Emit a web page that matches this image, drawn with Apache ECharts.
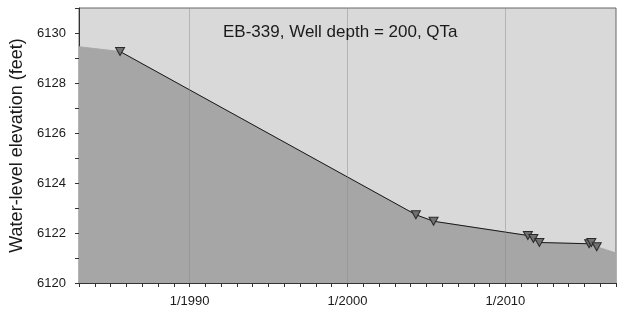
<!DOCTYPE html>
<html>
<head>
<meta charset="utf-8">
<script src="https://cdn.jsdelivr.net/npm/echarts@6/dist/echarts.min.js"></script>
<style>
  html, body { margin: 0; padding: 0; background: #fff; }
  #well_chart { width: 621px; height: 311px; }
</style>
</head>
<body>
<div id="well_chart"></div>
<script>
// measurement dates (decimal years) and water levels (feet)
var obs_dates = [1985.6, 2004.33, 2005.45, 2011.42, 2011.77, 2012.15, 2015.3, 2015.44, 2015.78]
var obs_levels = [6129.26, 6122.73, 6122.47, 6121.9, 6121.78, 6121.62, 6121.57, 6121.62, 6121.45]

// shaded surface carried out to the plot edges
var edge_dates = [1983, 2017]
var edge_levels = [6129.45, 6121.2]

var decade_lines = [1990, 2000, 2010]
var chart_title = 'EB-339, Well depth = 200, QTa'

function well_option() {
  let line_data = obs_dates.map((d, i) => [d, obs_levels[i]])
  let area_data = [[edge_dates[0], edge_levels[0]]]
    .concat(line_data)
    .concat([[edge_dates[1], edge_levels[1]]])
  return {
    animation: false,
    textStyle: { fontFamily: 'Liberation Sans, Arial, sans-serif' },
    title: {
      text: chart_title,
      left: 223,
      top: 24,
      padding: 0,
      textStyle: { fontSize: 17, fontWeight: 'normal', color: '#1a1a1a' }
    },
    grid: {
      left: 79,
      right: 5,
      top: 8,
      bottom: 28,
      outerBoundsMode: 'none',
      containLabel: false,
      show: true,
      backgroundColor: '#d9d9d9',
      borderColor: '#666',
      borderWidth: 1
    },
    xAxis: {
      type: 'value',
      min: 1983,
      max: 2017,
      interval: 1,
      axisLine: { lineStyle: { color: '#333' } },
      axisTick: { length: 4, lineStyle: { color: '#333' } },
      axisLabel: {
        margin: 12,
        fontSize: 13,
        color: '#1a1a1a',
        formatter: function (v) {
          return v % 10 === 0 ? '1/' + v : ''
        }
      },
      splitLine: { show: false }
    },
    yAxis: {
      type: 'value',
      min: 6120,
      max: 6131,
      interval: 1,
      name: 'Water-level elevation (feet)',
      nameLocation: 'middle',
      nameGap: 52,
      nameTextStyle: { fontSize: 18, color: '#1a1a1a' },
      axisLine: { show: true, lineStyle: { color: '#333' } },
      axisTick: { show: true, length: 4, lineStyle: { color: '#333' } },
      axisLabel: {
        margin: 13,
        fontSize: 13,
        color: '#1a1a1a',
        formatter: function (v) {
          return v % 2 === 0 && v <= 6130 ? String(v) : ''
        }
      },
      splitLine: { show: false }
    },
    series: [
      {
        type: 'line',
        data: area_data,
        showSymbol: false,
        silent: true,
        lineStyle: { color: '#a8a8a8', width: 1 },
        areaStyle: { color: '#a6a6a6', opacity: 1, origin: 'start' },
        markLine: {
          silent: true,
          symbol: 'none',
          label: { show: false },
          lineStyle: { color: '#888', type: 'solid', width: 1, opacity: 0.45 },
          data: decade_lines.map(v => ({ xAxis: v }))
        },
        z: 1
      },
      {
        type: 'line',
        data: line_data,
        symbol: 'triangle',
        symbolRotate: 180,
        symbolSize: [9, 8],
        showSymbol: true,
        lineStyle: { color: '#1a1a1a', width: 1 },
        itemStyle: { color: '#707070', borderColor: '#2a2a2a', borderWidth: 1 },
        z: 3
      }
    ]
  }
}

var myChart = echarts.init(document.querySelector('#well_chart'))
myChart.setOption(well_option())
window.addEventListener('resize', function () {
  myChart.resize()
})
</script>
</body>
</html>
